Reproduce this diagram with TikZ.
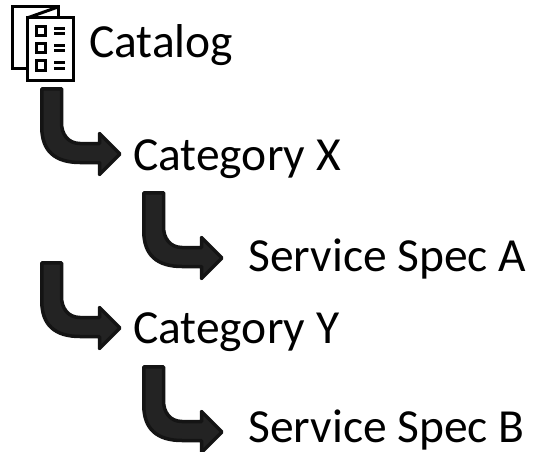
\documentclass[tikz,border=0pt]{standalone}
\usepackage{fontspec}
\setmainfont{Carlito}
\definecolor{arrowfill}{HTML}{232323}
\definecolor{arrowline}{HTML}{141414}
\tikzset{
    label text/.style = {anchor=base west, inner sep=0pt, font=\fontsize{47.5}{57}\selectfont},
    icon line/.style = {black, line width=3pt},
    bent arrow/.pic = {
        \draw[arrowline, line width=3.5pt, fill=arrowfill, line join=round]
            (1.75,1.75) -- (21.5,1.75) -- (21.5,36) .. controls (21.5,47) and (28,56.5) .. (40,56.5)
            -- (59.5,56.5) -- (59.5,46.5) -- (80,67) -- (59.5,87.5) -- (59.5,75.5) -- (40,75.5)
            .. controls (15,75.5) and (1.75,64) .. (1.75,40) -- cycle;
    }
}
\begin{document}
\begin{tikzpicture}[x=1pt, y=-1pt]
            \useasboundingbox (0,0) rectangle (535,452);
            % icon
            \draw[icon line] (27,68) -- (12,68) -- (12,7) -- (58,7) -- (58,17);
            \draw[icon line] (27,18) -- (58,7);
            \draw[icon line] (27,18) rectangle (73,80);
            \foreach \y in {27,44,61} {
                \draw[icon line] (36,\y) rectangle (45,\y+9);
                \draw[icon line] (54,\y+1.5) -- (65,\y+1.5);
                \draw[icon line] (54,\y+7) -- (65,\y+7);
            }
            % arrows
            \pic at (40,87) {bent arrow};
            \pic at (142,191) {bent arrow};
            \pic at (40,261) {bent arrow};
            \pic at (142,365) {bent arrow};
            % labels
            \node[label text] (catalog) at (89,58) {Catalog};
            \node[label text] (categoryx) at (133,170) {Category X};
            \node[label text] (specA) at (248,271) {Service Spec A};
            \node[label text] (categoryy) at (133,343) {Category Y};
            \node[label text] (specB) at (248,442) {Service Spec B};
\end{tikzpicture}
\end{document}
